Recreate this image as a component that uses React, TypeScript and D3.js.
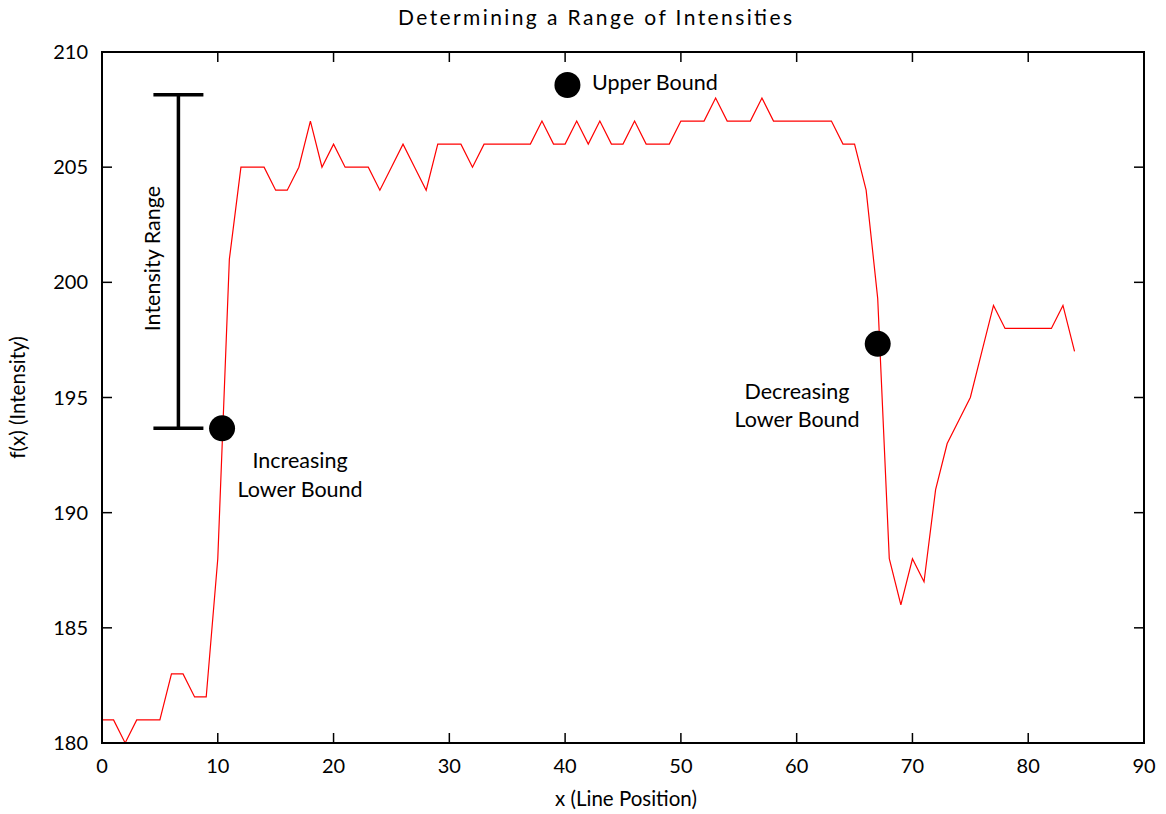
import React from "react";
import * as d3 from "d3";

const intensity = [
  181, 181, 180, 181, 181, 181, 183, 183, 182, 182,
  188, 201, 205, 205, 205, 204, 204, 205, 207, 205,
  206, 205, 205, 205, 204, 205, 206, 205, 204, 206,
  206, 206, 205, 206, 206, 206, 206, 206, 207, 206,
  206, 207, 206, 207, 206, 206, 207, 206, 206, 206,
  207, 207, 207, 208, 207, 207, 207, 208, 207, 207,
  207, 207, 207, 207, 206, 206, 204, 199.3, 188, 186,
  188, 187, 191, 193, 194, 195, 197, 199, 198, 198,
  198, 198, 198, 199, 197,
];
const xTicks = [0, 10, 20, 30, 40, 50, 60, 70, 80, 90];
const yTicks = [180, 185, 190, 195, 200, 205, 210];

const boundPoints = [
  { x: 10.37, y: 193.66 },
  { x: 40.2, y: 208.57 },
  { x: 67.0, y: 197.33 },
];
const rangeBar = { x: 6.6, y0: 193.66, y1: 208.14 };

const W = 1166;
const H = 814;
const left = 102;
const right = 1144;
const top = 52;
const bottom = 743;
const FONT = "Lato, 'Noto Sans', sans-serif";
const ANN = 21.5;
const AX = 20.5;

export default function App() {
  const x = d3.scaleLinear().domain([0, 90]).range([left, right]);
  const y = d3.scaleLinear().domain([180, 210]).range([bottom, top]);
  const line = d3
    .line<number>()
    .x((_, i) => x(i))
    .y((d) => y(d));
  const bx = x(rangeBar.x);
  return (
    <svg
      width={W}
      height={H}
      style={{ position: "absolute", left: 0, top: 0, background: "#fff" }}
      fontFamily={FONT}
    >
      <text x={595} y={25} textAnchor="middle" fontSize={21} fill="#000" textLength={394} lengthAdjust="spacing">
        Determining a Range of Intensities
      </text>
      <path d={line(intensity) || ""} fill="none" stroke="#ff0000" strokeWidth={1.2} />
      {xTicks.slice(1, -1).map((t) => (
        <g key={"xt" + t}>
          <line x1={x(t)} x2={x(t)} y1={bottom} y2={bottom - 10} stroke="#000" strokeWidth={1.5} />
          <line x1={x(t)} x2={x(t)} y1={top} y2={top + 10} stroke="#000" strokeWidth={1.5} />
        </g>
      ))}
      {yTicks.slice(1, -1).map((t) => (
        <g key={"yt" + t}>
          <line x1={left} x2={left + 10} y1={y(t)} y2={y(t)} stroke="#000" strokeWidth={1.5} />
          <line x1={right} x2={right - 10} y1={y(t)} y2={y(t)} stroke="#000" strokeWidth={1.5} />
        </g>
      ))}
      <rect x={left} y={top} width={right - left} height={bottom - top} fill="none" stroke="#000" strokeWidth={2} />
      {xTicks.map((t) => (
        <text key={"xl" + t} x={x(t)} y={773} textAnchor="middle" fontSize={20} fill="#000">
          {t}
        </text>
      ))}
      {yTicks.map((t) => (
        <text key={"yl" + t} x={88} y={y(t) + 7} textAnchor="end" fontSize={20} fill="#000">
          {t}
        </text>
      ))}
      <text x={626} y={806} textAnchor="middle" fontSize={AX} fill="#000">
        x (Line Position)
      </text>
      <text
        transform={`translate(25,${(top + bottom) / 2}) rotate(-90)`}
        textAnchor="middle"
        fontSize={AX}
        fill="#000"
      >
        f(x) (Intensity)
      </text>
      <line x1={bx} x2={bx} y1={y(rangeBar.y1)} y2={y(rangeBar.y0)} stroke="#000" strokeWidth={3.5} />
      <line x1={bx - 25} x2={bx + 25} y1={y(rangeBar.y1)} y2={y(rangeBar.y1)} stroke="#000" strokeWidth={3.5} />
      <line x1={bx - 25} x2={bx + 25} y1={y(rangeBar.y0)} y2={y(rangeBar.y0)} stroke="#000" strokeWidth={3.5} />
      <text
        transform={`translate(160,${(y(rangeBar.y0) + y(rangeBar.y1)) / 2 - 3}) rotate(-90)`}
        textAnchor="middle"
        fontSize={ANN}
        fill="#000"
      >
        Intensity Range
      </text>
      {boundPoints.map((p, i) => (
        <circle key={"c" + i} cx={x(p.x)} cy={y(p.y)} r={13} fill="#000" />
      ))}
      <text x={592} y={90} fontSize={ANN} fill="#000">Upper Bound</text>
      <text x={300} y={468} textAnchor="middle" fontSize={ANN} fill="#000">Increasing</text>
      <text x={300} y={497} textAnchor="middle" fontSize={ANN} fill="#000">Lower Bound</text>
      <text x={797} y={399} textAnchor="middle" fontSize={ANN} fill="#000">Decreasing</text>
      <text x={797} y={427} textAnchor="middle" fontSize={ANN} fill="#000">Lower Bound</text>
    </svg>
  );
}
